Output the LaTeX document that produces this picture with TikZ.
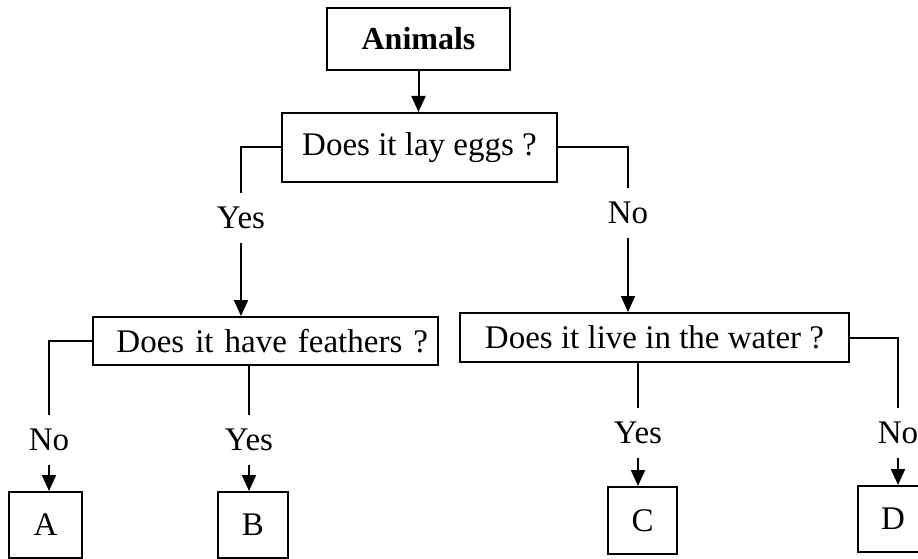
\documentclass[tikz,border=0pt]{standalone}
\usepackage{fontspec}
\setmainfont{Liberation Serif}
\usetikzlibrary{arrows.meta}
\begin{document}
\begin{tikzpicture}[x=1pt,y=-1pt,line width=2pt,
        font=\fontsize{33}{38}\selectfont,
        box/.style={draw,inner sep=0pt},
        answer/.style={inner xsep=0pt,inner ysep=13pt}]
    \tikzset{>={Triangle[length=16pt,width=14pt]}}
    \useasboundingbox (0,0) rectangle (918,559);
    \clip (0,0) rectangle (918,559);

    \node[box,minimum width=183pt,minimum height=62pt,font=\fontsize{32}{38}\selectfont\bfseries] (animals) at (418.5,39) {Animals};
    \node[box,minimum width=275pt,minimum height=69pt] (eggs) at (419.5,147.5) {Does it lay eggs ?};
    \node[answer] (yes1) at (241,218) {Yes};
    \node[answer] (no1) at (628,213) {No};

    \node[box,text width=325pt,align=right,inner xsep=10pt,minimum height=48pt] (feathers) at (265.5,341) {Does it have feathers ?};
    \node[box,minimum width=389pt,minimum height=49pt] (water) at (654.5,337.5) {Does it live in the water ?};
    \node[answer] (no2) at (49,440) {No};
    \node[answer] (yes2) at (249,440) {Yes};
    \node[answer] (yes3) at (638,433) {Yes};
    \node[answer] (no3) at (898,433) {No};

    \node[box,minimum width=73pt,minimum height=66pt] (A) at (45.5,525) {A};
    \node[box,minimum width=70pt,minimum height=66pt] (B) at (253,525) {B};
    \node[box,minimum width=69pt,minimum height=67pt] (C) at (642.5,520.5) {C};
    \node[box,minimum width=70pt,minimum height=66pt] (D) at (893,519) {D};

    \draw[->] (animals.south) -- (animals.south |- eggs.north);
    \draw (eggs.west) -| (yes1.north);
    \draw[->] (yes1.south) -- (yes1.south |- feathers.north);
    \draw (eggs.east) -| (no1.north);
    \draw[->] (no1.south) -- (no1.south |- water.north);

    \draw (feathers.west) -| (no2.north);
    \draw[->] (no2.south) -- (no2.south |- A.north);
    \draw (yes2.north |- feathers.south) -- (yes2.north);
    \draw[->] (yes2.south) -- (yes2.south |- B.north);
    \draw (yes3.north |- water.south) -- (yes3.north);
    \draw[->] (yes3.south) -- (yes3.south |- C.north);
    \draw (water.east) -| (no3.north);
    \draw[->] (no3.south) -- (no3.south |- D.north);
\end{tikzpicture}
\end{document}
